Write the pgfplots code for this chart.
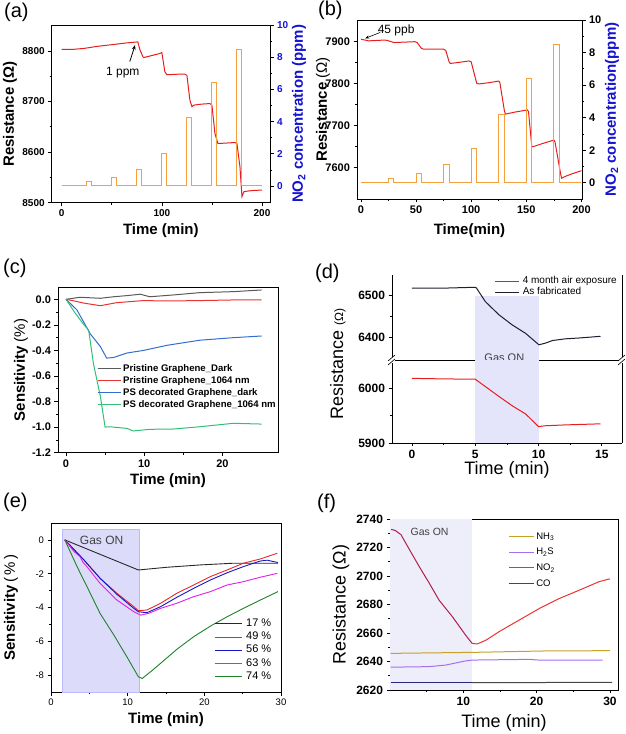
\documentclass[border=0pt]{standalone}
\usepackage{fontspec}
\setmainfont{Liberation Sans}
\usepackage{pgfplots}
\pgfplotsset{compat=1.18}
\usetikzlibrary{arrows.meta}
\definecolor{ored}{RGB}{232,30,30}
\definecolor{oorange}{RGB}{245,160,60}
\definecolor{nblue}{RGB}{20,20,210}
\definecolor{cgray}{RGB}{90,90,90}
\definecolor{cred}{RGB}{235,50,50}
\definecolor{cblue}{RGB}{50,110,210}
\definecolor{cgreen}{RGB}{50,190,120}
\definecolor{dshade}{RGB}{228,228,250}
\definecolor{dblack}{RGB}{30,30,50}
\definecolor{eshade}{RGB}{220,220,250}
\definecolor{eblack}{RGB}{40,40,40}
\definecolor{ered}{RGB}{230,40,40}
\definecolor{eblue}{RGB}{20,20,200}
\definecolor{emag}{RGB}{225,30,225}
\definecolor{egreen}{RGB}{30,130,40}
\definecolor{fshade}{RGB}{238,238,250}
\definecolor{fgold}{RGB}{200,160,40}
\definecolor{fpurple}{RGB}{165,110,235}
\definecolor{fred}{RGB}{235,50,50}
\definecolor{fcrimson}{RGB}{175,30,75}
\definecolor{fgray}{RGB}{70,70,70}
\definecolor{fnavy}{RGB}{40,40,120}
\pgfplotsset{
  base/.style={scale only axis, anchor=north west, clip=false,
    tick align=outside, tick pos=left,
    axis line style={line width=0.8pt},
    every tick/.style={black,line width=0.7pt},
    major tick length=3.5pt, minor tick length=2pt,
    /pgf/number format/assume math mode=true,
    /pgf/number format/1000 sep={},
    legend cell align=left},
}
\newcommand{\fs}[1]{\fontsize{#1}{#1}\selectfont}
\begin{document}
\begin{tikzpicture}[x=1pt,y=1pt]
\path[use as bounding box] (0,0) rectangle (625,734);
% panel labels
\node[anchor=base west,inner sep=0pt,font=\fs{20}] at (4,716) {(a)};
\node[anchor=base west,inner sep=0pt,font=\fs{20}] at (318,718) {(b)};
\node[anchor=base west,inner sep=0pt,font=\fs{20}] at (3,460) {(c)};
\node[anchor=base west,inner sep=0pt,font=\fs{20}] at (315,455) {(d)};
\node[anchor=base west,inner sep=0pt,font=\fs{20}] at (3,226) {(e)};
\node[anchor=base west,inner sep=0pt,font=\fs{20}] at (317,225) {(f)};

%================ (a)
\begin{axis}[base, at={(51.7pt,709pt)}, width=218.3pt, height=177.7pt,
  xmin=-10, xmax=208, ymin=8500, ymax=8851.4,
  xtick={0,100,200}, ytick={8500,8600,8700,8800}, minor tick num=1,
  tick label style={font=\bfseries\fs{10}},
  xlabel={Time (min)}, ylabel={Resistance (Ω)},
  label style={font=\bfseries\fs{15}},
  xlabel style={at={(axis description cs:0.5,-0.159)},anchor=center},
  ylabel style={at={(axis description cs:-0.191,0.5)},anchor=center}]
\addplot[ored, line width=1pt] coordinates {(0,8803)(10,8803)(22,8805)(35,8809)(48,8812)(65,8816)(76,8818)(78,8803)(81,8789)(82,8787)(90,8791)(98,8795)(100,8797)(103,8759)(105,8753)(115,8754)(123,8754)(125,8752)(128,8703)(130,8690)(132,8693)(140,8695)(148,8696)(150,8693)(153,8637)(156,8617)(165,8618)(173,8619)(175,8617)(178,8571)(180,8512)(182,8522)(190,8524)(200,8525)};
\draw[-{Stealth[length=5pt]}, line width=0.8pt] (axis cs:68,8779) -- (axis cs:73.3,8812);
\node[font=\fs{12}] at (axis cs:61,8758) {1 ppm};
\end{axis}
\begin{axis}[base, at={(51.7pt,709pt)}, width=218.3pt, height=177.7pt,
  xmin=-10, xmax=208, ymin=-1.04, ymax=10,
  axis y line*=right, axis x line=none, ytick pos=right, yticklabel pos=right,
  ytick={0,2,...,10}, minor tick num=1,
  tick label style={font=\bfseries\fs{10}, text=nblue},
  ylabel={NO\textsubscript{2} concentration (ppm)},
  ylabel style={font=\bfseries\fs{15}, text=nblue, at={(axis description cs:1.133,0.5)},anchor=center}]
\addplot[oorange, line width=1pt] coordinates {(0,0)(25,0)(25,0.25)(30,0.25)(30,0)(50,0)(50,0.5)(55,0.5)(55,0)(75,0)(75,1)(80,1)(80,0)(100,0)(100,2)(105,2)(105,0)(125,0)(125,4.25)(130,4.25)(130,0)(150,0)(150,6.4)(155,6.4)(155,0)(175,0)(175,8.5)(180,8.5)(180,0)(200,0)};
\end{axis}

%================ (b)
\begin{axis}[base, at={(357pt,714pt)}, width=225pt, height=179pt,
  xmin=-3.5, xmax=200.5, ymin=7524.3, ymax=7951.8,
  xtick={0,50,100,150,200}, ytick={7600,7700,7800,7900}, minor tick num=1,
  tick label style={font=\bfseries\fs{11}},
  xlabel={Time(min)}, ylabel={\textbf{Resistance} (Ω)},
  label style={font=\bfseries\fs{15}},
  ylabel style={font=\fs{15}},
  xlabel style={at={(axis description cs:0.5,-0.179)},anchor=center},
  ylabel style={at={(axis description cs:-0.151,0.5)},anchor=center}]
\addplot[ored, line width=1pt] coordinates {(0,7906)(7,7902)(15,7903)(22,7904)(25,7902)(30,7898)(40,7899)(49,7900)(51,7898)(55,7884)(57,7882)(66,7882)(75,7882)(77,7879)(80,7852)(81,7848)(90,7851)(98,7854)(100,7852)(105,7801)(107,7799)(116,7802)(125,7806)(126,7803)(130,7737)(131,7727)(140,7732)(151,7737)(152,7733)(155,7649)(157,7650)(165,7657)(175,7665)(176,7661)(181,7586)(182,7574)(186,7579)(191,7584)(200,7592)};
\draw[-{Stealth[length=4pt]}, line width=0.6pt] (axis cs:17.5,7922) -- (axis cs:3.9,7908);
\node[font=\fs{12}] at (axis cs:32,7926) {45 ppb};
\end{axis}
\begin{axis}[base, at={(357pt,714pt)}, width=225pt, height=179pt,
  xmin=-3.5, xmax=200.5, ymin=-1, ymax=10,
  axis y line*=right, axis x line=none, ytick pos=right, yticklabel pos=right,
  ytick={0,2,...,10}, minor tick num=1,
  tick label style={font=\bfseries\fs{11}},
  ylabel={NO\textsubscript{2} concentration(ppm)},
  ylabel style={font=\bfseries\fs{15}, text=nblue, at={(axis description cs:1.133,0.5)},anchor=center}]
\addplot[oorange, line width=1pt] coordinates {(0,0)(25,0)(25,0.25)(30,0.25)(30,0)(50,0)(50,0.55)(55,0.55)(55,0)(75,0)(75,1.1)(80,1.1)(80,0)(100,0)(100,2.1)(105,2.1)(105,0)(125,0)(125,4.2)(130,4.2)(130,0)(150,0)(150,6.4)(155,6.4)(155,0)(175,0)(175,8.5)(180,8.5)(180,0)(200,0)};
\end{axis}

%================ (c)
\begin{axis}[base, at={(58pt,446.7pt)}, width=220pt, height=165.4pt,
  xmin=-1.02, xmax=27.1, ymin=-1.2, ymax=0.094,
  xtick={0,10,20}, ytick={-1.2,-1,...,0}, minor tick num=1,
  yticklabel style={/pgf/number format/.cd, fixed, fixed zerofill, precision=1},
  tick label style={font=\bfseries\fs{11}},
  xlabel={Time (min)}, ylabel={\textbf{Sensitivity} (\%)},
  label style={font=\bfseries\fs{15}},
  ylabel style={font=\fs{15}},
  xlabel style={at={(axis description cs:0.5,-0.171)},anchor=center},
  ylabel style={at={(axis description cs:-0.168,0.5)},anchor=center},
  legend style={draw=none, fill=none, at={(axis description cs:0.177,0.538)}, anchor=north west,
    font=\bfseries\fs{9.6}, inner sep=0pt, row sep=2.6pt, column sep=2pt,
    nodes={inner sep=0pt, text height=0.75em, text depth=0.2em}},
  legend image code/.code={\draw[#1] (0pt,0pt) -- (23pt,0pt);}]
\addplot[cgray, line width=1pt] coordinates {(0,0)(1.8,0.016)(4.4,0.008)(6.1,0.02)(8,0.03)(9.5,0.04)(10.7,0.02)(13.7,0.034)(17.1,0.052)(21.4,0.06)(25,0.073)};
\addlegendentry{Pristine Graphene\_Dark}
\addplot[cred, line width=1pt] coordinates {(0,0)(1,-0.012)(2.3,-0.03)(4.4,-0.05)(6.5,-0.026)(9.9,-0.01)(12.9,-0.013)(17.1,-0.01)(21.4,-0.005)(25,-0.005)};
\addlegendentry{Pristine Graphene\_1064 nm}
\addplot[cblue, line width=1pt] coordinates {(0,0)(1.4,-0.083)(3.1,-0.27)(4.4,-0.37)(5.2,-0.46)(6.1,-0.455)(7.8,-0.42)(9.9,-0.4)(12.9,-0.36)(17.1,-0.32)(21.4,-0.30)(25,-0.287)};
\addlegendentry{PS decorated Graphene\_dark}
\addplot[cgreen, line width=1pt] coordinates {(0,0)(1.2,-0.11)(2.3,-0.2)(2.9,-0.24)(3.5,-0.5)(4.4,-0.76)(5.0,-1.0)(5.6,-0.997)(7.8,-1.01)(8.6,-1.03)(10.7,-1.017)(13.7,-1.015)(17.1,-0.997)(21.4,-0.97)(25,-0.976)};
\addlegendentry{PS decorated Graphene\_1064 nm}
\end{axis}

%================ (d) upper
\begin{axis}[base, at={(392pt,459pt)}, width=230pt, height=85pt,
  xmin=-1.58, xmax=16.6, ymin=6346, ymax=6547,
  axis x line*=top, xtick=\empty, ytick={6400,6500}, minor y tick num=1,
  tick label style={font=\bfseries\fs{12}},
  legend style={draw=none, fill=none, at={(axis description cs:0.978,0.985)}, anchor=north east,
    font=\fs{10}, inner sep=0pt, row sep=1.5pt, column sep=3pt,
    nodes={inner sep=0pt, text height=0.75em, text depth=0.2em}},
  legend image code/.code={\draw[#1] (0pt,0pt) -- (24pt,0pt);}]
\addplot[fill=dshade, draw=none, forget plot] coordinates {(5,6346)(5,6498)(10,6498)(10,6346)} -- cycle;
\addlegendimage{ored, line width=1pt}
\addlegendentry{4 month air exposure}
\addplot[dblack, line width=1pt] coordinates {(0,6516)(2.6,6516)(5,6518)(5.1,6516)(5.8,6484)(6.87,6453)(7.92,6429)(8.98,6409)(10.03,6382)(10.56,6386)(11.1,6392)(12.1,6396)(13.2,6398)(14.9,6402)};
\addlegendentry{As fabricated}
\node[font=\fs{11}, text=black!75] at (axis cs:7.3,6352) {Gas ON};
\end{axis}
%================ (d) lower
\begin{axis}[base, at={(392pt,374pt)}, width=230pt, height=83pt,
  xmin=-1.58, xmax=16.6, ymin=5900, ymax=6051.5,
  axis x line*=bottom, xtick={0,5,10,15}, ytick={5900,6000}, minor tick num=1,
  tick label style={font=\bfseries\fs{12}},
  xlabel={Time (min)}, ylabel={Resistance {\fs{12}(Ω)}},
  xlabel style={font=\fs{18}, at={(axis description cs:0.5,-0.325)},anchor=center},
  ylabel style={font=\fs{18}, at={(axis description cs:-0.235,0.952)},anchor=center}]
\addplot[fill=dshade, draw=none, forget plot] coordinates {(5,5900)(5,6051.5)(10,6051.5)(10,5900)} -- cycle;
\addplot[ored, line width=1pt] coordinates {(0,6018)(2.5,6017)(5,6016.4)(5.8,6003)(6.87,5985)(7.92,5968)(8.98,5953)(10,5930)(10.56,5931.5)(12.1,5933)(14.9,5935)};
\end{axis}
% axis break marks
\fill[white] (389,371) rectangle (395,377);
\draw[line width=0.6pt] (388,369) -- (395,375);
\draw[line width=0.6pt] (388,373) -- (395,379);
\fill[white] (619,371) rectangle (625,377);
\draw[line width=0.6pt] (618,369) -- (625,375);
\draw[line width=0.6pt] (618,373) -- (625,379);

%================ (e)
\begin{axis}[base, at={(51pt,211pt)}, width=230pt, height=169pt,
  xmin=0, xmax=30, ymin=-9, ymax=1,
  xtick={0,10,20,30}, ytick={-8,-6,-4,-2,0}, minor tick num=1,
  tick label style={font=\fs{9.5}},
  xlabel={Time (min)}, ylabel={\textbf{Sensitivity}\,(\,\%\,)},
  xlabel style={font=\bfseries\fs{15}, at={(axis description cs:0.5,-0.166)},anchor=center},
  ylabel style={font=\fs{15}, at={(axis description cs:-0.174,0.5)},anchor=center},
  legend style={draw=none, fill=none, at={(axis description cs:0.709,0.433)}, anchor=north west,
    font=\fs{11}, inner sep=0pt, row sep=3.7pt, column sep=4pt,
    nodes={inner sep=0pt, text height=0.75em, text depth=0.2em}},
  legend image code/.code={\draw[#1] (0pt,0pt) -- (27pt,0pt);}]
\addplot[fill=eshade, draw=eshade!85!blue, forget plot] coordinates {(1.5,-9)(1.5,0.65)(11.5,0.65)(11.5,-9)} -- cycle;
\addplot[eblack, line width=0.9pt] coordinates {(1.8,0)(11.4,-1.78)(15.1,-1.62)(19.5,-1.48)(23.8,-1.38)(29.6,-1.38)};
\addlegendentry{17 \%}
\addplot[ered, line width=0.9pt] coordinates {(1.8,0)(4.3,-1.19)(6.4,-2.27)(8.6,-3.16)(10.8,-3.95)(11.4,-4.19)(12.5,-4.15)(14.3,-3.75)(16.4,-3.16)(18.6,-2.67)(20.8,-2.17)(22.96,-1.78)(25.1,-1.38)(27.3,-1.13)(29.5,-0.79)};
\addlegendentry{49 \%}
\addplot[eblue, line width=0.9pt] coordinates {(1.8,0)(4.3,-1.19)(6.4,-2.27)(8.6,-3.22)(10.8,-4.05)(11.4,-4.25)(12.5,-4.31)(14.3,-3.95)(16.4,-3.4)(18.6,-2.87)(20.8,-2.37)(23,-1.94)(25.1,-1.58)(27.3,-1.25)(28.2,-1.2)(29.6,-1.34)};
\addlegendentry{56 \%}
\addplot[emag, line width=0.9pt] coordinates {(1.8,0)(3,-0.69)(3.8,-1.0)(4.2,-1.35)(4.5,-1.48)(6.4,-2.57)(8.6,-3.56)(10.8,-4.25)(11.7,-4.45)(12.7,-4.35)(14.3,-4.05)(16.4,-3.75)(18.6,-3.36)(20.8,-3.06)(22.96,-2.67)(25.1,-2.47)(27.3,-2.21)(29.5,-1.98)};
\addlegendentry{63 \%}
\addplot[egreen, line width=0.9pt] coordinates {(1.8,0)(3.4,-1.58)(4.7,-2.77)(6.4,-4.35)(8.2,-5.63)(9.9,-6.92)(11.4,-8.1)(11.9,-8.2)(13,-7.8)(14.3,-7.3)(16.4,-6.48)(18.6,-5.73)(20.8,-5.1)(22.96,-4.55)(25.1,-4.05)(27.3,-3.56)(29.6,-3.06)};
\addlegendentry{74 \%}
\node[font=\fs{12}, text=black!75] at (axis cs:6.6,0) {Gas ON};
\end{axis}

%================ (f)
\begin{axis}[base, at={(390pt,215pt)}, width=228pt, height=171pt,
  xmin=0, xmax=31.1, ymin=2620, ymax=2740,
  xtick={10,20,30}, minor xtick={5,15,25}, ytick={2620,2640,...,2740}, minor y tick num=1,
  tick label style={font=\bfseries\fs{12}},
  xlabel={Time (min)}, ylabel={Resistance (Ω)},
  xlabel style={font=\fs{18}, at={(axis description cs:0.5,-0.193)},anchor=center},
  ylabel style={font=\fs{18}, at={(axis description cs:-0.215,0.5)},anchor=center},
  legend style={draw=none, fill=none, at={(axis description cs:0.518,0.927)}, anchor=north west,
    font=\fs{9.5}, inner sep=0pt, row sep=6.2pt, column sep=2pt,
    nodes={inner sep=0pt, text height=0.75em, text depth=0.2em}},
  legend image code/.code={\draw[#1] (0pt,0pt) -- (25pt,0pt);}]
\addplot[fill=fshade, draw=none, forget plot] coordinates {(0,2620)(0,2740)(11.2,2740)(11.2,2620)} -- cycle;
\addplot[fgold, line width=1pt, forget plot] coordinates {(0.1,2645.7)(11.2,2646.4)(21.2,2647.4)(30,2647.6)};
\addplot[fpurple, line width=1pt, forget plot] coordinates {(0.1,2636)(5.35,2636.4)(7.6,2637.5)(10.3,2640.4)(11.2,2641)(19,2641.5)(20.3,2641)(29,2641)};
\addplot[fcrimson, line width=1pt, forget plot] coordinates {(0.14,2732.7)(0.7,2732)(1.5,2729)(2.6,2719)(4,2706.5)(5.35,2695)(6.7,2683)(8.5,2671.5)(10.3,2658.6)(11.2,2652.7)};
\addplot[fred, line width=1pt, forget plot] coordinates {(11.2,2652.7)(11.9,2652.3)(13.1,2655)(14.9,2661)(17.6,2669)(20.3,2677)(23,2684)(25.8,2690)(28.5,2696)(30,2698)};
\addplot[fnavy, line width=1pt, forget plot] coordinates {(0.1,2625.1)(11.2,2625.1)};
\addplot[fgray, line width=1pt, forget plot] coordinates {(11.2,2625.1)(20,2625.2)(24,2625.4)(30.3,2625.4)};
\addlegendimage{fgold, line width=1pt}\addlegendentry{NH\textsubscript{3}}
\addlegendimage{fpurple, line width=1pt}\addlegendentry{H\textsubscript{2}S}
\addlegendimage{fred, line width=1pt}\addlegendentry{NO\textsubscript{2}}
\addlegendimage{fgray, line width=1pt}\addlegendentry{CO}
\node[font=\fs{10.5}, text=black!75] at (axis cs:5.4,2731) {Gas ON};
\end{axis}
\end{tikzpicture}
\end{document}
